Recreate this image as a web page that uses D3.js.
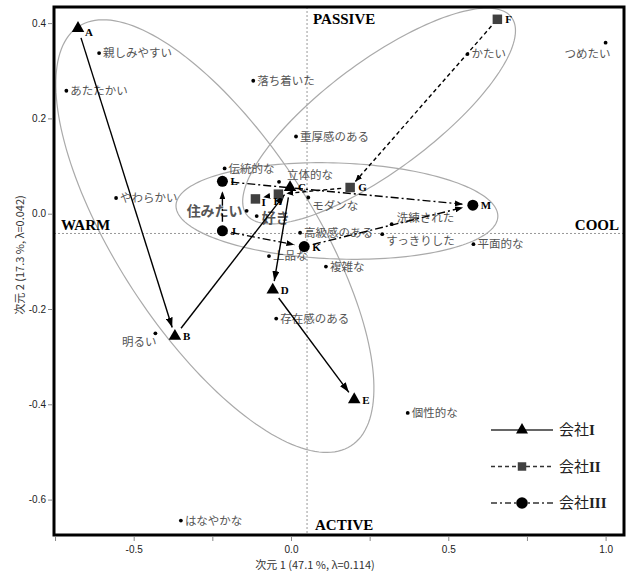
<!DOCTYPE html>
<html>
<head>
<meta charset="utf-8">
<script src="https://cdn.jsdelivr.net/npm/d3@7"></script>
<style>
body { margin: 0; background: #fff; }
svg { display: block; }
.word { font-family: "Noto Sans CJK JP", sans-serif; font-size: 11.5px; fill: #555; }
.word.big { font-size: 14px; font-weight: bold; }
.pt-label { font-family: "Liberation Serif", serif; font-weight: bold; font-size: 11px; fill: #000; }
.quad { font-family: "Liberation Serif", serif; font-weight: bold; font-size: 15px; fill: #000; }
.tick text { font-family: "Liberation Sans", Arial, sans-serif; font-size: 10px; fill: #222; }
.tick line { stroke: #888; }
.axis-title { font-family: "Noto Sans CJK JP", sans-serif; font-size: 11px; fill: #333; }
.legend-text { font-family: "Liberation Serif", "Noto Sans CJK JP", serif; font-size: 15px; fill: #222; }
</style>
</head>
<body>
<svg id="chart" width="628" height="571"></svg>
<script>
// 会社ごとの点 (次元1, 次元2)
const companyI = [
    { id: 'A', x: -0.677, y: 0.389 },
    { id: 'B', x: -0.369, y: -0.257 },
    { id: 'C', x: -0.003, y: 0.055 },
    { id: 'D', x: -0.058, y: -0.160 },
    { id: 'E', x: 0.201, y: -0.390 }
];
const companyII = [
    { id: 'F', x: 0.656, y: 0.408 },
    { id: 'G', x: 0.188, y: 0.055 },
    { id: 'H', x: -0.040, y: 0.041 },
    { id: 'I', x: -0.113, y: 0.031 }
];
const companyIII = [
    { id: 'J', x: -0.218, y: -0.036 },
    { id: 'K', x: 0.042, y: -0.069 },
    { id: 'L', x: -0.218, y: 0.068 },
    { id: 'M', x: 0.578, y: 0.018 }
];

// 矢印 (from -> to)
const arrowsI = [['A', 'B'], ['B', 'C'], ['C', 'D'], ['D', 'E']];
const arrowsII = [['F', 'G'], ['G', 'H'], ['H', 'I']];
const arrowsIII = [['J', 'L'], ['L', 'M'], ['J', 'K'], ['K', 'M']];

// 形容詞
const words = [
    { name: '親しみやすい', x: -0.610, y: 0.337 },
    { name: 'あたたかい', x: -0.714, y: 0.258 },
    { name: '落ち着いた', x: -0.120, y: 0.279 },
    { name: '重厚感のある', x: 0.016, y: 0.162 },
    { name: '伝統的な', x: -0.211, y: 0.095 },
    { name: '立体的な', x: -0.038, y: 0.067 },
    { name: 'やわらかい', x: -0.556, y: 0.033 },
    { name: '住みたい', x: -0.141, y: 0.006 },
    { name: '好き', x: -0.109, y: -0.005 },
    { name: 'モダンな', x: 0.055, y: 0.034 },
    { name: '洗練された', x: 0.320, y: -0.022 },
    { name: 'すっきりした', x: 0.290, y: -0.043 },
    { name: '高級感のある', x: 0.029, y: -0.040 },
    { name: '上品な', x: -0.070, y: -0.089 },
    { name: '複雑な', x: 0.111, y: -0.111 },
    { name: '平面的な', x: 0.580, y: -0.064 },
    { name: 'かたい', x: 0.561, y: 0.335 },
    { name: 'つめたい', x: 1.000, y: 0.359 },
    { name: '明るい', x: -0.431, y: -0.251 },
    { name: '存在感のある', x: -0.047, y: -0.220 },
    { name: '個性的な', x: 0.371, y: -0.418 },
    { name: 'はなやかな', x: -0.350, y: -0.644 }
];

// 信頼楕円: 中心, 長軸ベクトル, 短軸ベクトル (データ単位)
const ellipses = [
    { c: [-0.242, -0.047], u: [0.433, -0.440], v: [-0.261, -0.112] },
    { c: [0.280, 0.205], u: [0.421, 0.207], v: [0.1036, -0.0917] },
    { c: [0.146, 0.0057], u: [0.5115, -0.0118], v: [-0.0053, -0.1007] }
];

const refX = 0.051;
const refY = -0.0415;
const xTicks = [-0.75, -0.5, -0.25, 0, 0.25, 0.5, 0.75, 1.0];
const xTickLabels = [-0.5, 0, 0.5, 1.0];
const yTicks = [0.4, 0.2, 0, -0.2, -0.4, -0.6];

// ラベルの置き方 (既定は点の右)
const labelPlace = {
    '立体的な': { dx: 8, dy: -7 },
    'つめたい': { dx: 5, dy: 11, anchor: 'end' },
    '明るい': { dx: 1, dy: 9, anchor: 'end' },
    'モダンな': { dx: 4, dy: 8 },
    '洗練された': { dx: 5, dy: -6 },
    'すっきりした': { dx: 4, dy: 7 },
    '住みたい': { dx: -4, dy: 0, anchor: 'end', big: true },
    '好き': { dx: 5, dy: 2, big: true }
};
const ptLabelOffset = { A: [7, 8], H: [-5, 11], I: [6, 7] };

const svg = d3.select('#chart');
const plotLeft = 54, plotRight = 624, plotTop = 7, plotBottom = 535;

const x = d3.scaleLinear().domain([-0.7533, 1.0585]).range([plotLeft, plotRight]);
const y = d3.scaleLinear().domain([-0.6743, 0.4338]).range([plotBottom, plotTop]);

// 矢印の頭
const defs = svg.append('defs');
function addHead(id, len, w) {
    defs.append('marker').attr('id', id)
        .attr('markerUnits', 'userSpaceOnUse')
        .attr('viewBox', `0 ${-w} ${len} ${2 * w}`)
        .attr('refX', len).attr('refY', 0)
        .attr('markerWidth', len).attr('markerHeight', 2 * w)
        .attr('orient', 'auto')
        .append('path').attr('d', `M0,${-w}L${len},0L0,${w}Z`).attr('fill', '#000');
}
addHead('headI', 10, 3.5);
addHead('headII', 7, 3);
addHead('headIII', 8, 3);

// 軸
const xAxis = svg.append('g').attr('transform', `translate(0,${plotBottom + 2})`)
    .call(d3.axisBottom(x).tickValues(xTicks).tickSize(4).tickPadding(5)
        .tickFormat(d => xTickLabels.includes(d) ? d.toFixed(1) : ''));
xAxis.select('.domain').remove();

const yAxis = svg.append('g').attr('transform', `translate(${plotLeft - 2},0)`)
    .call(d3.axisLeft(y).tickValues(yTicks).tickSize(4).tickPadding(2)
        .tickFormat(d => d.toFixed(1)));
yAxis.select('.domain').remove();

svg.append('text').attr('class', 'axis-title')
    .attr('x', 315).attr('y', 569).attr('text-anchor', 'middle')
    .text('次元 1  (47.1 %, λ=0.114)');
svg.append('text').attr('class', 'axis-title')
    .attr('transform', 'translate(24,255) rotate(-90)').attr('text-anchor', 'middle')
    .text('次元 2  (17.3 %, λ=0.042)');

// 基準線
svg.append('line').attr('x1', x(refX)).attr('x2', x(refX)).attr('y1', plotTop).attr('y2', plotBottom)
    .attr('stroke', '#999').attr('stroke-width', 1).attr('stroke-dasharray', '2,2');
svg.append('line').attr('x1', plotLeft).attr('x2', plotRight).attr('y1', y(refY)).attr('y2', y(refY))
    .attr('stroke', '#999').attr('stroke-width', 1).attr('stroke-dasharray', '2,2');

// 楕円
const ellLine = d3.line().x(p => x(p[0])).y(p => y(p[1])).curve(d3.curveLinearClosed);
ellipses.forEach(e => {
    const pts = d3.range(0, 360, 2).map(a => {
        const t = a * Math.PI / 180;
        return [e.c[0] + e.u[0] * Math.cos(t) + e.v[0] * Math.sin(t),
                e.c[1] + e.u[1] * Math.cos(t) + e.v[1] * Math.sin(t)];
    });
    svg.append('path').attr('d', ellLine(pts))
        .attr('fill', 'none').attr('stroke', '#aaa').attr('stroke-width', 1.2);
});

// 形容詞
const wg = svg.append('g');
words.forEach(w => {
    const p = labelPlace[w.name] || { dx: 4, dy: 0 };
    wg.append('circle').attr('cx', x(w.x)).attr('cy', y(w.y)).attr('r', 1.9).attr('fill', '#000');
    wg.append('text').attr('class', p.big ? 'word big' : 'word')
        .attr('x', x(w.x) + p.dx).attr('y', y(w.y) + p.dy).attr('dy', '0.36em')
        .attr('text-anchor', p.anchor || 'start')
        .text(w.name);
});

// 矢印
function drawArrows(points, pairs, dash, head, gapStart, gapEnd) {
    const byId = {};
    points.forEach(d => byId[d.id] = d);
    pairs.forEach(([a, b]) => {
        const x1 = x(byId[a].x), y1 = y(byId[a].y), x2 = x(byId[b].x), y2 = y(byId[b].y);
        const len = Math.hypot(x2 - x1, y2 - y1);
        const ux = (x2 - x1) / len, uy = (y2 - y1) / len;
        svg.append('line')
            .attr('x1', x1 + ux * gapStart).attr('y1', y1 + uy * gapStart)
            .attr('x2', x2 - ux * gapEnd).attr('y2', y2 - uy * gapEnd)
            .attr('stroke', '#000').attr('stroke-width', 1.4)
            .attr('stroke-dasharray', dash)
            .attr('marker-end', `url(#${head})`);
    });
}
drawArrows(companyI, arrowsI, null, 'headI', 10, 9);
drawArrows(companyII, arrowsII, '4,3', 'headII', 9, 8);
drawArrows(companyIII, arrowsIII, '8,3,2,3', 'headIII', 9, 10);

// 点
const tri = d3.symbol().type(d3.symbolTriangle).size(68);
const sq = d3.symbol().type(d3.symbolSquare).size(90);

svg.selectAll('.triI').data(companyI).enter().append('path')
    .attr('transform', d => `translate(${x(d.x)},${y(d.y)})`)
    .attr('d', tri).attr('fill', '#000');
svg.selectAll('.sqII').data(companyII).enter().append('path')
    .attr('transform', d => `translate(${x(d.x)},${y(d.y)})`)
    .attr('d', sq).attr('fill', '#404040');
svg.selectAll('.cirIII').data(companyIII).enter().append('circle')
    .attr('cx', d => x(d.x)).attr('cy', d => y(d.y)).attr('r', 5.5).attr('fill', '#000');

companyI.concat(companyII, companyIII).forEach(d => {
    const o = ptLabelOffset[d.id] || [8, 4];
    svg.append('text').attr('class', 'pt-label')
        .attr('x', x(d.x) + o[0]).attr('y', y(d.y) + o[1]).text(d.id);
});

// 象限の名前
svg.append('text').attr('class', 'quad').attr('x', 313).attr('y', 24).text('PASSIVE');
svg.append('text').attr('class', 'quad').attr('x', 315).attr('y', 530).text('ACTIVE');
svg.append('text').attr('class', 'quad').attr('x', 61).attr('y', 230).text('WARM');
svg.append('text').attr('class', 'quad').attr('x', 619).attr('y', 230).attr('text-anchor', 'end').text('COOL');

// 凡例
const legendRows = [
    { name: '会社', num: 'I', dash: null, shape: 'tri' },
    { name: '会社', num: 'II', dash: '4,3', shape: 'sq' },
    { name: '会社', num: 'III', dash: '6,3,2,3', shape: 'cir' }
];
const lg = svg.append('g');
legendRows.forEach((r, i) => {
    const ly = 430 + i * 36.5;
    lg.append('line').attr('x1', 491).attr('x2', 553).attr('y1', ly).attr('y2', ly)
        .attr('stroke', '#333').attr('stroke-width', 1.5).attr('stroke-dasharray', r.dash);
    if (r.shape === 'tri') {
        lg.append('path').attr('transform', `translate(522,${ly})`)
            .attr('d', d3.symbol().type(d3.symbolTriangle).size(62)()).attr('fill', '#000');
    } else if (r.shape === 'sq') {
        lg.append('path').attr('transform', `translate(522,${ly})`)
            .attr('d', d3.symbol().type(d3.symbolSquare).size(72)()).attr('fill', '#404040');
    } else {
        lg.append('circle').attr('cx', 522).attr('cy', ly).attr('r', 5.8).attr('fill', '#000');
    }
    const t = lg.append('text').attr('class', 'legend-text').attr('x', 559).attr('y', ly + 5);
    t.append('tspan').style('font-family', '"Noto Sans CJK JP", sans-serif').text(r.name);
    t.append('tspan').style('font-weight', 'bold').text(r.num);
});

// 枠
svg.append('rect').attr('x', plotLeft).attr('y', plotTop)
    .attr('width', plotRight - plotLeft).attr('height', plotBottom - plotTop)
    .attr('fill', 'none').attr('stroke', '#000').attr('stroke-width', 3);
</script>
</body>
</html>
